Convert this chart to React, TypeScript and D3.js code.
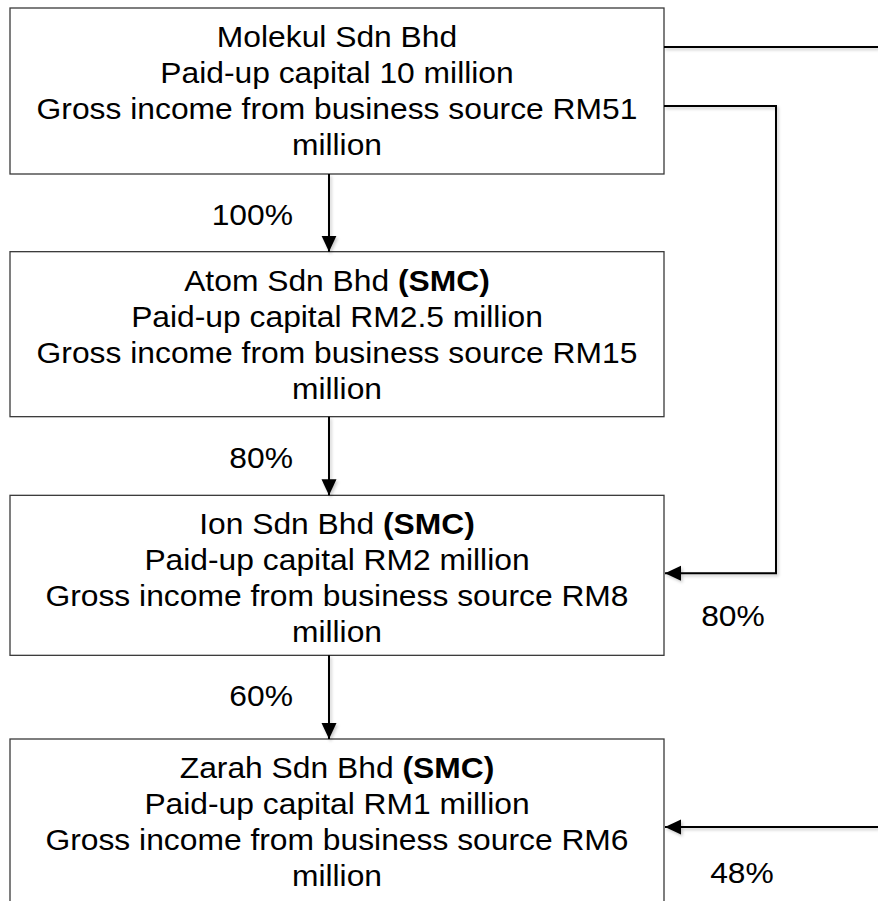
import React from 'react';
import * as d3 from 'd3';

// company chain, top to bottom
const companies = ['Molekul Sdn Bhd', 'Atom Sdn Bhd', 'Ion Sdn Bhd', 'Zarah Sdn Bhd'];
const smcFlags = [false, true, true, true];
const capitalLabels = ['10 million', 'RM2.5 million', 'RM2 million', 'RM1 million'];
const incomeLabels = ['RM51', 'RM15', 'RM8', 'RM6'];
const directStakes = ['100%', '80%', '60%'];
const indirectStakes = ['80%', '48%'];

const W = 878;
const H = 901;
const FONT = '"Liberation Sans", Arial, Helvetica, sans-serif';
const FS = 30;
const SX = 1.06; // text in the source is a bit wider than plain Arial
const LINE_H = 36;

const BOX_X0 = 10;
const BOX_X1 = 664;
const BOX_H = [166, 165, 160, 170];
const ARROW_X = 329;
const SIDE_X = 776;

// box tops are evenly spaced
const yTop = d3.scaleLinear().domain([0, 3]).range([8, 739]);

export default function App() {
  const cx = (BOX_X0 + BOX_X1) / 2;
  const line = d3.line();

  const boxes = companies.map((name, i) => ({
    name,
    smc: smcFlags[i],
    lines: [
      null,
      `Paid-up capital ${capitalLabels[i]}`,
      `Gross income from business source ${incomeLabels[i]}`,
      'million',
    ],
    top: yTop(i),
    h: BOX_H[i],
  }));

  const topY = yTop(0) + 39;
  const midY = yTop(2) + 78;
  const lowY = yTop(3) + 88;

  return (
    <svg
      width={W}
      height={H}
      viewBox={`0 0 ${W} ${H}`}
      style={{ position: 'absolute', left: 0, top: 0, background: '#fff' }}
      fontFamily={FONT}
    >
      <defs>
        <marker id="ah" viewBox="0 0 16 16" refX="16" refY="8" markerWidth="16" markerHeight="16"
          markerUnits="userSpaceOnUse" orient="auto">
          <path d="M0,0.5 L16,8 L0,15.5 Z" fill="#000" />
        </marker>
        <filter id="sh" filterUnits="userSpaceOnUse" x="0" y="0" width={W} height={H}>
          <feDropShadow dx="1.5" dy="2" stdDeviation="1.5" floodColor="#000" floodOpacity="0.22" />
        </filter>
      </defs>

      {boxes.map((b) => (
        <g key={b.name}>
          <rect x={BOX_X0} y={b.top} width={BOX_X1 - BOX_X0} height={b.h}
            fill="#fff" stroke="#3a3a3a" strokeWidth={1.3} />
          {b.lines.map((t, j) => (
            <text key={j} transform={`translate(${cx},${b.top + 39 + j * LINE_H}) scale(${SX},1)`}
              textAnchor="middle" fontSize={FS} fill="#000">
              {j === 0 ? (
                <>
                  <tspan>{b.name}</tspan>
                  {b.smc && <tspan fontWeight="bold">{' (SMC)'}</tspan>}
                </>
              ) : t}
            </text>
          ))}
        </g>
      ))}

      {/* direct holdings */}
      {directStakes.map((s, i) => {
        const y0 = yTop(i) + BOX_H[i];
        const y1 = yTop(i + 1);
        return (
          <g key={'d' + i}>
            <path d={line([[ARROW_X, y0], [ARROW_X, y1]]) || ''} stroke="#000" strokeWidth={2}
              fill="none" markerEnd="url(#ah)" filter="url(#sh)" />
            <text transform={`translate(293,${y0 + 51}) scale(${SX},1)`} textAnchor="end"
              fontSize={FS} fill="#000">{s}</text>
          </g>
        );
      })}

      {/* top line leaving off the page */}
      <path d={line([[BOX_X1, topY], [W, topY]]) || ''} stroke="#000" strokeWidth={2} fill="none" filter="url(#sh)" />

      {/* Molekul -> Ion */}
      <path d={line([[BOX_X1, 106], [SIDE_X, 106], [SIDE_X, midY], [BOX_X1 + 1, midY]]) || ''}
        stroke="#000" strokeWidth={2} fill="none" markerEnd="url(#ah)" filter="url(#sh)" />
      <text transform={`translate(733,626) scale(${SX},1)`} textAnchor="middle" fontSize={FS} fill="#000">
        {indirectStakes[0]}
      </text>

      {/* incoming from the right into Zarah */}
      <path d={line([[W, lowY], [BOX_X1 + 1, lowY]]) || ''}
        stroke="#000" strokeWidth={2} fill="none" markerEnd="url(#ah)" filter="url(#sh)" />
      <text transform={`translate(742,883) scale(${SX},1)`} textAnchor="middle" fontSize={FS} fill="#000">
        {indirectStakes[1]}
      </text>
    </svg>
  );
}
